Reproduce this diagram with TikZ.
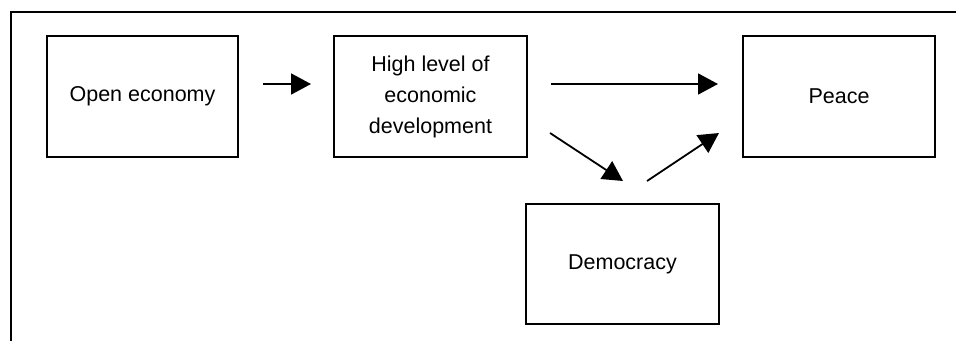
\documentclass[tikz,border=0pt]{standalone}
\usepackage{fontspec}
\setmainfont{Liberation Sans}
\usetikzlibrary{arrows.meta}
\begin{document}
\begin{tikzpicture}[x=1pt,y=-1pt,
  box/.style={draw, line width=1.8pt, rectangle, inner sep=0pt, align=center,
    font=\fontsize{21.5}{31}\selectfont},
  link/.style={line width=1.8pt, -{Triangle[length=20pt,width=21pt]}},
  frame/.style={line width=2pt}]
  \useasboundingbox (0,0) rectangle (956,341);
  % outer frame: top and left edges only
  \coordinate (fbl) at (11,341);
  \coordinate (ftl) at (11,12);
  \coordinate (ftr) at (956,12);
  \draw[frame] (fbl) -- (ftl) -- (ftr);

  % boxes
  \node[box, minimum width=191pt, minimum height=121pt] (open) at (142.5,96.5) {Open economy};
  \node[box, minimum width=193pt, minimum height=121pt] (high) at (430.5,96.5) {High level of\\economic\\development};
  \node[box, minimum width=192pt, minimum height=121pt] (peace) at (839,96.5) {Peace};
  \node[box, minimum width=193pt, minimum height=120pt] (demo) at (622.5,264) {Democracy};

  % arrow end points
  \coordinate (a1s) at (263,84);
  \coordinate (a1e) at (311,84);
  \coordinate (a2s) at (551,84);
  \coordinate (a2e) at (718,84);
  \coordinate (a3s) at (550,133);
  \coordinate (a3e) at (623,181);
  \coordinate (a4s) at (647,181);
  \coordinate (a4e) at (719,133);

  \draw[link] (a1s) -- (a1e);
  \draw[link] (a2s) -- (a2e);
  \draw[link] (a3s) -- (a3e);
  \draw[link] (a4s) -- (a4e);
\end{tikzpicture}
\end{document}
